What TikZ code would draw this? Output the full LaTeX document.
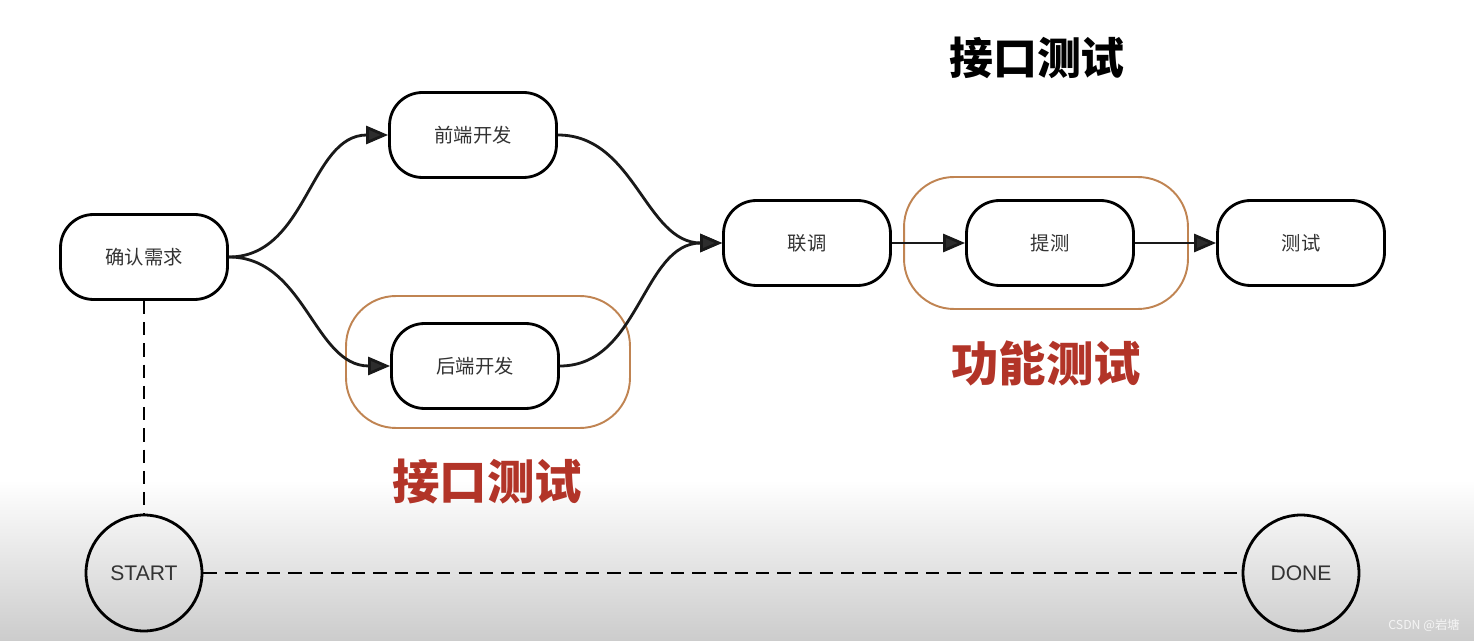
\documentclass[tikz,border=0pt]{standalone}
\usepackage{fontspec}
\setmainfont{Liberation Sans}
\newfontfamily\cjk{Noto Sans CJK SC}
\usetikzlibrary{arrows.meta,positioning}

\definecolor{framebrown}{RGB}{192,132,82}
\definecolor{labelred}{RGB}{178,52,40}
\definecolor{tipgray}{RGB}{45,45,45}

\tikzset{
  task/.style={draw, line width=1.6pt, rounded corners=0.66cm,
    minimum width=3.34cm, minimum height=1.7cm, fill=white,
    font=\cjk\fontsize{11}{13}\selectfont, text=black!80},
  ring/.style={draw, circle, line width=1.6pt, minimum size=2.32cm,
    font=\fontsize{12}{14}\selectfont, text=black!80},
  frame/.style={draw=framebrown, line width=1.1pt, rounded corners=1cm,
    minimum width=5.68cm, minimum height=2.64cm},
  flow/.style={line width=1.6pt, draw=black!90,
    -{Triangle[length=0.44cm,width=0.36cm,fill=tipgray]}},
  dashline/.style={line width=1.5pt, dash pattern=on 7.5pt off 4.6pt},
  redtext/.style={font=\cjk\bfseries\fontsize{27}{30}\selectfont, text=labelred},
}

\begin{document}
\begin{tikzpicture}[x=0.02cm,y=-0.02cm]
  \useasboundingbox (0,0) rectangle (1474,641);
  \fill[white] (0,0) rectangle (1474,641);
  \shade[top color=white,bottom color=gray!40] (0,480) rectangle (1474,641);

  % orange frames
  \node[frame] (apiframe) at (488,362) {};
  \node[frame] (funcframe) at (1046,243) {};

  % steps
  \node[task] (need) at (144,257) {确认需求};
  \node[task] (front) at (473,135) {前端开发};
  \node[task] (back) at (475,366) {后端开发};
  \node[task] (joint) at (807,243) {联调};
  \node[task] (submit) at (1050,243) {提测};
  \node[task] (test) at (1301,243) {测试};

  \node[ring] (start) at (144,573) {START};
  \node[ring] (done) at (1301,573) {DONE};

  % labels
  \node[font=\cjk\bfseries\fontsize{25}{28}\selectfont] (toplabel) at (1037,58) {接口测试};
  \node[redtext] (apilabel) at (487,482) {接口测试};
  \node[redtext] (funclabel) at (1046,363) {功能测试};
  \node[font=\cjk\fontsize{7}{8}\selectfont, text=white!92!gray] (mark) at (1424,625) {CSDN @岩塘};

  % connectors
  \draw[flow] (need.east) to[out=0,in=180] (front.west);
  \draw[flow] (need.east) to[out=0,in=180] (back.west);
  \draw[flow] (front.east) to[out=0,in=180] (joint.west);
  \draw[flow] (back.east) to[out=0,in=180] (joint.west);
  \draw[flow] (joint) -- (submit);
  \draw[flow] (submit) -- (test);

  \draw[dashline] (need) -- (start);
  \draw[dashline] (start) -- (done);
\end{tikzpicture}
\end{document}
